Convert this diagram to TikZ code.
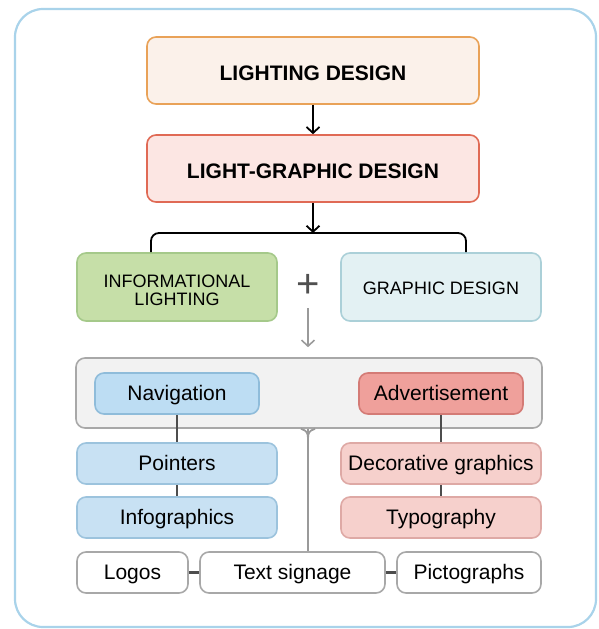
\documentclass[tikz,border=0pt]{standalone}
\usepackage{fontspec}
\setmainfont{Liberation Sans}
\usetikzlibrary{arrows.meta,calc}
\definecolor{framec}{HTML}{A9D3EA}
\definecolor{ldfill}{HTML}{FBF1EA}
\definecolor{lddraw}{HTML}{E9A258}
\definecolor{lgfill}{HTML}{FCE6E3}
\definecolor{lgdraw}{HTML}{E06A55}
\definecolor{infill}{HTML}{C6DFA8}
\definecolor{indraw}{HTML}{A5C98A}
\definecolor{gdfill}{HTML}{E3F1F3}
\definecolor{gddraw}{HTML}{ABD0D8}
\definecolor{ctfill}{HTML}{F2F2F2}
\definecolor{ctdraw}{HTML}{A8A8A8}
\definecolor{nvfill}{HTML}{BDDDF3}
\definecolor{nvdraw}{HTML}{8FBCDA}
\definecolor{adfill}{HTML}{EFA09B}
\definecolor{addraw}{HTML}{D47B76}
\definecolor{bufill}{HTML}{C8E1F3}
\definecolor{budraw}{HTML}{9CC3DD}
\definecolor{pkfill}{HTML}{F6D0CC}
\definecolor{pkdraw}{HTML}{DEA9A5}
\definecolor{darkline}{HTML}{4D4D4D}
\definecolor{midline}{HTML}{9A9A9A}
\definecolor{plusc}{HTML}{505050}
\begin{document}
\begin{tikzpicture}[x=1pt,y=-1pt,
  box/.style={rounded corners=9pt, line width=1.6pt, inner sep=0pt, align=center, text=black},
  titlebox/.style={box, minimum width=332pt, minimum height=67pt, text height=19pt, text depth=0pt, font=\fontsize{21}{24}\selectfont\bfseries},
  midbox/.style={box, minimum width=200pt, minimum height=68pt, font=\fontsize{18}{18}\selectfont},
  smallbox/.style={box, minimum height=41pt, text height=14pt, text depth=1pt, font=\fontsize{21}{24}\selectfont},
  arr/.style={line width=1.8pt, black, -{Straight Barb[length=6pt,width=13pt,line width=1.8pt]}},
  grayarr/.style={line width=1.6pt, midline, -{Straight Barb[length=6pt,width=13pt,line width=1.6pt]}},
  conn/.style={line width=1.8pt, darkline},
  vline/.style={line width=1.8pt, midline},
  joiner/.style={line width=2.6pt, darkline},
]
\useasboundingbox (0,0) rectangle (598,629);
\draw[framec, line width=2.2pt, rounded corners=28pt] (15,9) rectangle (596,627);

\node[titlebox, draw=lddraw, fill=ldfill] (LD) at (313,70.5) {LIGHTING DESIGN};
\node[titlebox, draw=lgdraw, fill=lgfill] (LGD) at (313,168.5) {LIGHT-GRAPHIC DESIGN};
\node[midbox, draw=indraw, fill=infill, text height=36pt, text depth=0pt] (INFO) at (177,287) {INFORMATIONAL\\LIGHTING};
\node[midbox, draw=gddraw, fill=gdfill, text height=14pt, text depth=0pt] (GD) at (441,287) {GRAPHIC DESIGN};
\node[font=\fontsize{40}{40}\selectfont, text=plusc, inner sep=0pt] (plus) at (308,286) {+};

\node[box, draw=ctdraw, fill=ctfill, minimum width=466pt, minimum height=70pt] (CONT) at (309,393) {};
\node[smallbox, draw=nvdraw, fill=nvfill, minimum width=164pt] (NAV) at (177,393.5) {Navigation};
\node[smallbox, draw=addraw, fill=adfill, minimum width=164pt] (ADV) at (441,393.5) {Advertisement};
\node[smallbox, draw=budraw, fill=bufill, minimum width=200pt] (PTR) at (177,463.5) {Pointers};
\node[smallbox, draw=budraw, fill=bufill, minimum width=200pt] (INF) at (177,517.5) {Infographics};
\node[smallbox, draw=pkdraw, fill=pkfill, minimum width=200pt] (DEC) at (441,463.5) {Decorative graphics};
\node[smallbox, draw=pkdraw, fill=pkfill, minimum width=200pt] (TYP) at (441,517.5) {Typography};
\node[smallbox, draw=ctdraw, fill=white, minimum width=111pt] (LOGOS) at (132.5,572.5) {Logos};
\node[smallbox, draw=ctdraw, fill=white, minimum width=185pt] (TS) at (292.5,572.5) {Text signage};
\node[smallbox, draw=ctdraw, fill=white, minimum width=144pt] (PIC) at (469,572.5) {Pictographs};

% arrows
\draw[arr] (LD.south) -- (LGD.north);
\coordinate (brk) at (313,233);
\coordinate (bl) at (151,233);
\coordinate (br) at (466,233);
\draw[arr] (LGD.south) -- (brk);
\draw[line width=1.8pt, black, rounded corners=8pt] (INFO.north -| bl) -- (bl) -- (br) -- (GD.north -| br);
\draw[grayarr, shorten <=22pt, shorten >=10pt] (plus.center) -- (CONT.north -| plus.center);

% connectors
\draw[conn] (NAV.south) -- (PTR.north);
\draw[conn] (PTR.south) -- (INF.north);
\draw[conn] (ADV.south) -- (DEC.north);
\draw[conn] (DEC.south) -- (TYP.north);
\coordinate (cs) at ($(CONT.south)+(-1,0)$);
\draw[vline] (cs) -- (TS.north -| cs);
\draw[vline] ($(cs)+(-7,0)$) .. controls ($(cs)+(-1,2)$) and ($(cs)+(0,4)$) .. ($(cs)+(0,10)$);
\draw[vline] ($(cs)+(7,0)$) .. controls ($(cs)+(1,2)$) and ($(cs)+(0,4)$) .. ($(cs)+(0,10)$);
\draw[joiner] (LOGOS.east) -- (TS.west);
\draw[joiner] (TS.east) -- (PIC.west);
\end{tikzpicture}
\end{document}
